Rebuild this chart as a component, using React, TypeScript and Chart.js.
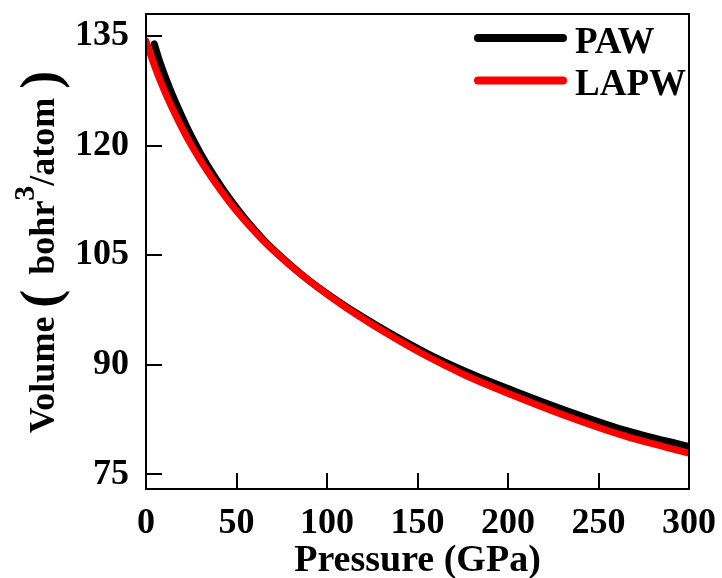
import React, { useEffect, useRef } from "react";
import { Chart, registerables } from "chart.js";

Chart.register(...registerables);

// ---- Data ----
const pressurePAW = [4.6, 8, 13, 18, 24, 30, 38, 46, 55, 65, 76, 88, 102, 118, 135, 155, 177, 202, 231, 264, 300];
const volumePAW = [133.9, 131.2, 127.9, 125.0, 121.8, 119.0, 115.7, 112.8, 109.9, 107.1, 104.5, 101.95, 99.4, 96.8, 94.3, 91.6, 89.05, 86.55, 83.85, 81.1, 78.8];

const pressureLAPW = [0, 4, 8, 13, 18, 24, 30, 38, 46, 55, 65, 76, 88, 102, 118, 135, 155, 177, 202, 231, 264, 300];
const volumeLAPW = [134.3, 131.4, 128.8, 125.9, 123.35, 120.5, 118.0, 115.0, 112.3, 109.6, 106.95, 104.4, 101.9, 99.3, 96.6, 94.0, 91.2, 88.5, 85.9, 83.1, 80.3, 77.9];

const seriesLabels = ["PAW", "LAPW"];
const seriesColors = ["#000000", "#ff0000"];

const xTicks = [0, 50, 100, 150, 200, 250, 300];
const yTicks = [75, 90, 105, 120, 135];
const xRange = [0, 300];
const yRange = [73, 138];

const xTitle = "Pressure (GPa)";
const FONT = '"Liberation Serif", "Times New Roman", serif';

const decorPlugin = {
  id: "decor",
  afterDraw(chart: any) {
    const { ctx, chartArea } = chart;
    const { left, right, top, bottom } = chartArea;
    const xs = chart.scales.x;
    const ys = chart.scales.y;
    ctx.save();
    // frame
    ctx.strokeStyle = "#000";
    ctx.lineWidth = 2;
    ctx.strokeRect(left, top, right - left, bottom - top);
    // inward ticks
    ctx.beginPath();
    for (const v of xTicks) {
      const px = Math.round(xs.getPixelForValue(v));
      ctx.moveTo(px, bottom);
      ctx.lineTo(px, bottom - 16);
    }
    for (const v of yTicks) {
      const py = Math.round(ys.getPixelForValue(v));
      ctx.moveTo(left, py);
      ctx.lineTo(left + 16, py);
    }
    ctx.stroke();

    // x title
    ctx.fillStyle = "#000";
    ctx.font = `bold 38px ${FONT}`;
    ctx.textAlign = "center";
    ctx.textBaseline = "alphabetic";
    ctx.fillText(xTitle, (left + right) / 2, 571);

    // y title with superscript and big parentheses
    const segs: [string, number, number, number][] = [
      ["Volume", 36, 0, 9],
      ["(", 54, -4, 15],
      ["bohr", 36, 0, 0],
      ["3", 30, 20, 0],
      ["/atom", 36, 0, 9],
      [")", 54, -4, 0],
    ];
    let total = 0;
    const widths: number[] = [];
    for (const [t, s, , g] of segs) {
      ctx.font = `bold ${s}px ${FONT}`;
      const w = ctx.measureText(t).width;
      widths.push(w);
      total += w + g;
    }
    ctx.translate(54, 252);
    ctx.rotate(-Math.PI / 2);
    ctx.textAlign = "left";
    let cx = -total / 2;
    segs.forEach(([t, s, rise, g], i) => {
      ctx.font = `bold ${s}px ${FONT}`;
      ctx.fillText(t, cx, -rise);
      cx += widths[i] + g;
    });
    ctx.setTransform(1, 0, 0, 1, 0, 0);

    // legend
    const legendY = [38, 80.5];
    const baseY = [52.5, 94.5];
    ctx.font = `bold 37px ${FONT}`;
    ctx.textAlign = "left";
    seriesLabels.forEach((lab, i) => {
      ctx.strokeStyle = seriesColors[i];
      ctx.lineWidth = 8;
      ctx.lineCap = "round";
      ctx.beginPath();
      ctx.moveTo(478, legendY[i]);
      ctx.lineTo(563, legendY[i]);
      ctx.stroke();
      ctx.fillStyle = "#000";
      ctx.fillText(lab, 575, baseY[i]);
    });
    ctx.restore();
  },
};

export default function App() {
  const ref = useRef<HTMLCanvasElement | null>(null);
  useEffect(() => {
    if (!ref.current) return;
    const chart = new Chart(ref.current, {
      type: "scatter",
      data: {
        datasets: [
          {
            label: seriesLabels[0],
            data: pressurePAW.map((p, i) => ({ x: p, y: volumePAW[i] })),
            borderColor: seriesColors[0],
            backgroundColor: seriesColors[0],
            borderWidth: 7,
            showLine: true,
            pointRadius: 0,
            cubicInterpolationMode: "monotone",
            borderCapStyle: "round",
            order: 1,
          },
          {
            label: seriesLabels[1],
            data: pressureLAPW.map((p, i) => ({ x: p, y: volumeLAPW[i] })),
            borderColor: seriesColors[1],
            backgroundColor: seriesColors[1],
            borderWidth: 7,
            showLine: true,
            pointRadius: 0,
            cubicInterpolationMode: "monotone",
            borderCapStyle: "round",
            order: 0,
          },
        ],
      },
      options: {
        animation: false,
        responsive: false,
        devicePixelRatio: 1,
        layout: { padding: { top: 14, right: 33, left: 0, bottom: 0 } },
        plugins: { legend: { display: false }, tooltip: { enabled: false } },
        scales: {
          x: {
            type: "linear",
            min: xRange[0],
            max: xRange[1],
            afterBuildTicks: (s: any) => {
              s.ticks = xTicks.map((v) => ({ value: v }));
            },
            ticks: {
              color: "#000",
              padding: 13,
              font: { family: FONT, size: 36, weight: "bold" },
            },
            grid: { display: false, drawTicks: false },
            border: { display: false },
            afterFit: (s: any) => {
              s.height = 89;
              s.paddingLeft = 0;
              s.paddingRight = 0;
            },
          },
          y: {
            type: "linear",
            min: yRange[0],
            max: yRange[1],
            afterBuildTicks: (s: any) => {
              s.ticks = yTicks.map((v) => ({ value: v }));
            },
            ticks: {
              color: "#000",
              padding: 17,
              font: { family: FONT, size: 36, weight: "bold" },
            },
            grid: { display: false, drawTicks: false },
            border: { display: false },
            afterFit: (s: any) => {
              s.width = 146;
              s.paddingTop = 0;
              s.paddingBottom = 0;
            },
          },
        },
      },
      plugins: [decorPlugin],
    } as any);
    return () => chart.destroy();
  }, []);
  return (
    <div style={{ position: "fixed", left: 0, top: 0, width: 722, height: 578, background: "#fff" }}>
      <canvas ref={ref} width={722} height={578} style={{ display: "block" }} />
    </div>
  );
}
